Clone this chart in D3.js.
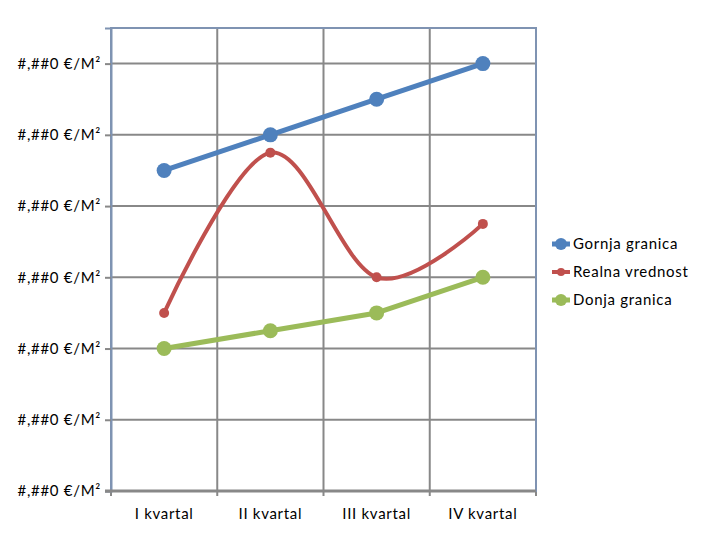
<!DOCTYPE html>
<html>
<head>
<meta charset="utf-8">
<script src="https://cdn.jsdelivr.net/npm/d3@7"></script>
<style>
  body { margin: 0; background: #fff; }
  text { font-family: Lato, "Open Sans", sans-serif; font-size: 15px; letter-spacing: 0.7px; fill: #000; }
</style>
</head>
<body>
<svg id="chart" width="720" height="540"></svg>
<script>
// data
const categories = ["I kvartal", "II kvartal", "III kvartal", "IV kvartal"];
const gornja = [4.5, 5, 5.5, 6];
const realna = [2.5, 4.75, 3, 3.75];
const donja = [2, 2.25, 2.5, 3];
const tickValues = [0, 1, 2, 3, 4, 5, 6];
const tickLabel = "#,##0 €/M²";
const seriesNames = ["Gornja granica", "Realna vrednost", "Donja granica"];

const plotLeft = 111, plotRight = 536, plotTop = 28, plotBottom = 491;

const svg = d3.select("#chart");

const x = d3.scaleBand().domain(categories).range([plotLeft, plotRight]);
const y = d3.scaleLinear().domain([0, 6.5]).range([plotBottom, plotTop]);

// horizontal gridlines
svg.append("g")
  .selectAll("line")
  .data(tickValues)
  .enter().append("line")
  .attr("x1", plotLeft).attr("x2", plotRight)
  .attr("y1", d => y(d)).attr("y2", d => y(d))
  .attr("stroke", "#888").attr("stroke-width", 2);

// vertical gridlines at category boundaries
const bounds = categories.map(c => x(c)).concat([plotRight]);
svg.append("g")
  .selectAll("line")
  .data(bounds)
  .enter().append("line")
  .attr("x1", d => d).attr("x2", d => d)
  .attr("y1", plotTop).attr("y2", plotBottom + 5)
  .attr("stroke", "#888").attr("stroke-width", 2);

// plot border
svg.append("rect")
  .attr("x", plotLeft).attr("y", plotTop)
  .attr("width", plotRight - plotLeft).attr("height", plotBottom - plotTop)
  .attr("fill", "none").attr("stroke", "#7f93b2").attr("stroke-width", 2);

// y axis
const yAxis = svg.append("g")
  .attr("transform", "translate(" + plotLeft + ",0)")
  .call(d3.axisLeft(y).tickValues(tickValues).tickSize(6).tickPadding(4).tickFormat(() => tickLabel));
yAxis.select(".domain").attr("stroke", "#7f93b2").attr("stroke-width", 2);
yAxis.selectAll(".tick line").attr("stroke", "#888").attr("stroke-width", 2);
yAxis.selectAll("text").style("font-size", "15px").style("font-family", null);

// bottom axis line
svg.append("line")
  .attr("x1", plotLeft - 6).attr("x2", plotRight)
  .attr("y1", plotBottom).attr("y2", plotBottom)
  .attr("stroke", "#888").attr("stroke-width", 3);

// category labels
svg.append("g")
  .selectAll("text")
  .data(categories)
  .enter().append("text")
  .attr("x", d => x(d) + x.bandwidth() / 2)
  .attr("y", 519)
  .attr("text-anchor", "middle")
  .text(d => d);

const series = [
  { name: seriesNames[0], values: gornja, color: "#4f81bd", width: 5, r: 7.5, curve: d3.curveLinear },
  { name: seriesNames[1], values: realna, color: "#c0504d", width: 4, r: 5, curve: d3.curveCatmullRom.alpha(0) },
  { name: seriesNames[2], values: donja, color: "#9bbb59", width: 5, r: 7.5, curve: d3.curveLinear }
];

const cx = i => x(categories[i]) + x.bandwidth() / 2;

series.forEach(s => {
  const line = d3.line()
    .x((d, i) => cx(i))
    .y(d => y(d))
    .curve(s.curve);

  svg.append("path")
    .datum(s.values)
    .attr("d", line)
    .attr("fill", "none")
    .attr("stroke", s.color)
    .attr("stroke-width", s.width)
    .attr("stroke-linejoin", "round");

  svg.append("g")
    .selectAll("circle")
    .data(s.values)
    .enter().append("circle")
    .attr("cx", (d, i) => cx(i))
    .attr("cy", d => y(d))
    .attr("r", s.r)
    .attr("fill", s.color);
});

// legend
const legend = svg.append("g")
  .selectAll("g")
  .data(series)
  .enter().append("g")
  .attr("transform", (d, i) => "translate(552," + (244 + i * 28) + ")");

legend.append("line")
  .attr("x1", 0).attr("x2", 18)
  .attr("stroke", d => d.color)
  .attr("stroke-width", d => d.width);
legend.append("circle")
  .attr("cx", 9).attr("r", d => d.r === 5 ? 4 : 6)
  .attr("fill", d => d.color);
legend.append("text")
  .attr("x", 21).attr("y", 5)
  .text(d => d.name);
</script>
</body>
</html>
